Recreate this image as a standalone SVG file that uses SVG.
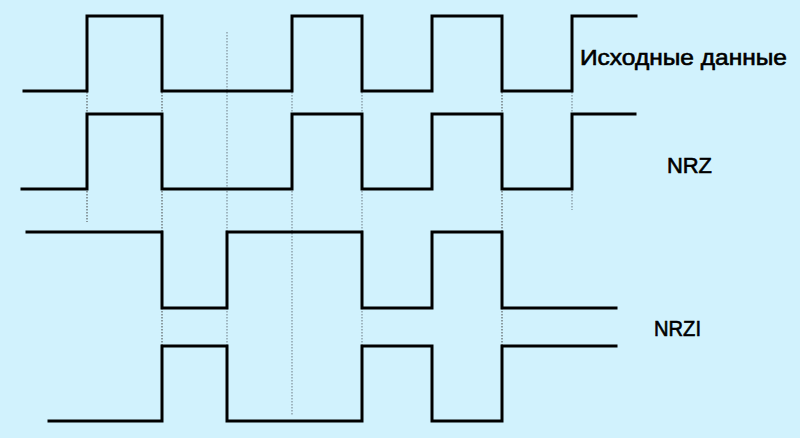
<svg xmlns="http://www.w3.org/2000/svg" width="800" height="438" viewBox="0 0 800 438">
<style>
.wave{fill:none;stroke:#000;stroke-width:3;stroke-linejoin:miter;stroke-linecap:square}
.dotd{stroke:#444;stroke-width:1;stroke-dasharray:1.5,1.5}
.dotl{stroke:#7f8f9a;stroke-width:1.2;stroke-dasharray:1.5,1.5}
.lbl{font-family:"Liberation Sans",Arial,sans-serif;font-size:21.5px;font-weight:normal;fill:#000;stroke:#000;stroke-width:0.6}
</style>
<rect width="800" height="438" fill="#D1F2FD"/>
<g id="guides">
<line class="dotd" x1="87" y1="92" x2="87" y2="222"/>
<line class="dotd" x1="162" y1="92" x2="162" y2="346"/>
<line class="dotl" x1="227" y1="32" x2="227" y2="346"/>
<line class="dotl" x1="292" y1="92" x2="292" y2="415"/>
<line class="dotl" x1="362" y1="92" x2="362" y2="346"/>
<line class="dotd" x1="502" y1="92" x2="502" y2="346"/>
<line class="dotl" x1="572" y1="92" x2="572" y2="210"/>
</g>
<g id="source">
<path class="wave" d="M24,91 H87 V16 H162 V91 H292 V16 H362 V91 H432 V16 H502 V91 H572 V16 H636"/>
<text class="lbl" x="580" y="65" textLength="207" lengthAdjust="spacingAndGlyphs">Исходные данные</text>
</g>
<g id="nrz">
<path class="wave" d="M22,189 H87 V114 H162 V189 H292 V114 H362 V189 H432 V114 H502 V189 H572 V114 H635"/>
<text class="lbl" x="667" y="173" textLength="45" lengthAdjust="spacingAndGlyphs">NRZ</text>
</g>
<g id="nrzi">
<path class="wave" d="M27,232 H162 V308 H227 V232 H362 V308 H432 V232 H502 V308 H616"/>
<path class="wave" d="M49,421 H162 V346 H227 V421 H362 V346 H432 V421 H502 V346 H616"/>
<text class="lbl" x="654" y="336" textLength="47" lengthAdjust="spacingAndGlyphs">NRZI</text>
</g>
</svg>
